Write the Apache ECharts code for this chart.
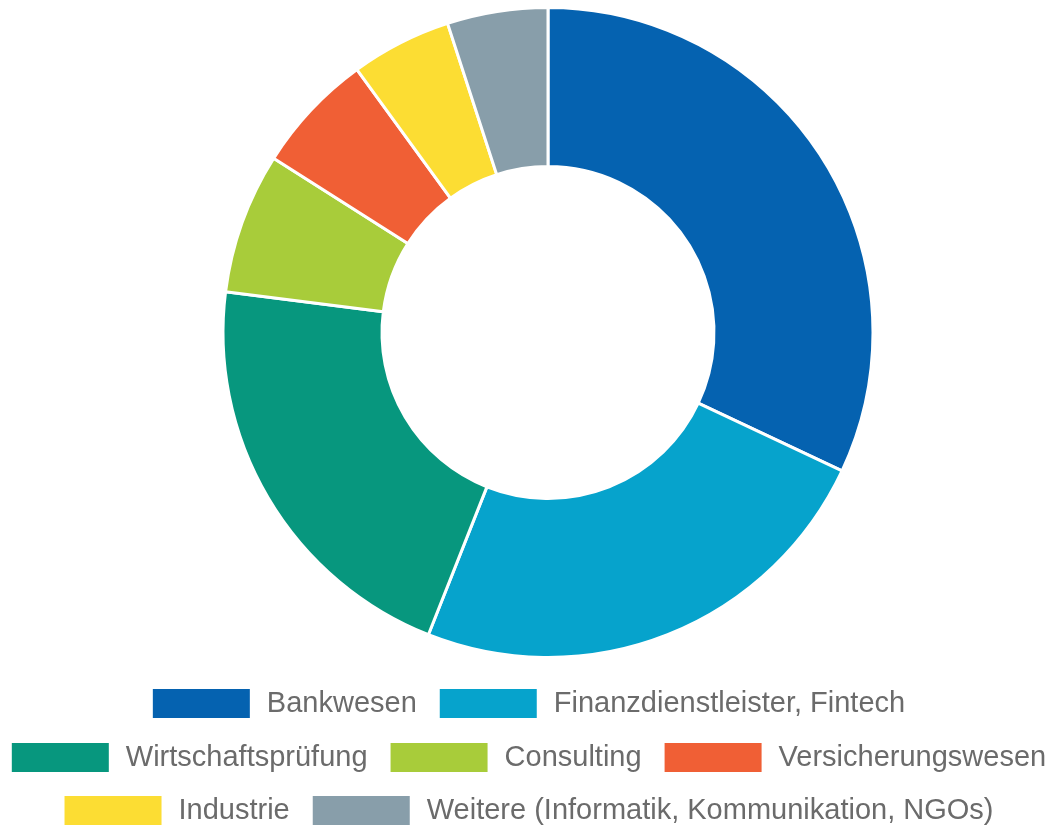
<!DOCTYPE html>
<html>
<head>
<meta charset="utf-8">
<script src="https://cdn.jsdelivr.net/npm/echarts@6/dist/echarts.min.js"></script>
<style>
html,body{margin:0;padding:0;background:#fff;}
#chart{width:1058px;height:825px;}
</style>
</head>
<body>
<div id="chart"></div>
<script>
const categories = [
  'Bankwesen',
  'Finanzdienstleister, Fintech',
  'Wirtschaftsprüfung',
  'Consulting',
  'Versicherungswesen',
  'Industrie',
  'Weitere (Informatik, Kommunikation, NGOs)'
];
const values = [32, 24, 21, 7, 6, 5, 5];
const colors = ['#0562b0', '#06a3cc', '#07977e', '#a8cc3a', '#f05f35', '#fcdd33', '#889eaa'];
const legendRows = [
  ['Bankwesen', 'Finanzdienstleister, Fintech'],
  ['Wirtschaftsprüfung', 'Consulting', 'Versicherungswesen'],
  ['Industrie', 'Weitere (Informatik, Kommunikation, NGOs)']
];
const legendTops = [689, 743, 796];

const chart = echarts.init(document.getElementById('chart'), null, {renderer: 'canvas'});
const legendBase = {
  orient: 'horizontal',
  left: 'center',
  padding: 0,
  itemWidth: 97,
  itemHeight: 29,
  itemGap: 23,
  icon: 'rect',
  itemStyle: {borderWidth: 0},
  textStyle: {
    fontFamily: '"Liberation Sans", Arial, sans-serif',
    fontSize: 29,
    color: '#6b6b6b',
    padding: [0, 0, 0, 12]
  }
};
chart.setOption({
  animation: false,
  color: colors,
  legend: legendRows.map((row, i) => Object.assign({}, legendBase, {data: row, top: legendTops[i]})),
  series: [{
    type: 'pie',
    center: [548, 332.5],
    radius: [166, 325],
    startAngle: 90,
    clockwise: true,
    label: {show: false},
    labelLine: {show: false},
    emphasis: {disabled: true},
    itemStyle: {borderColor: '#ffffff', borderWidth: 3},
    data: categories.map((c, i) => ({name: c, value: values[i]}))
  }]
});
</script>
</body>
</html>
